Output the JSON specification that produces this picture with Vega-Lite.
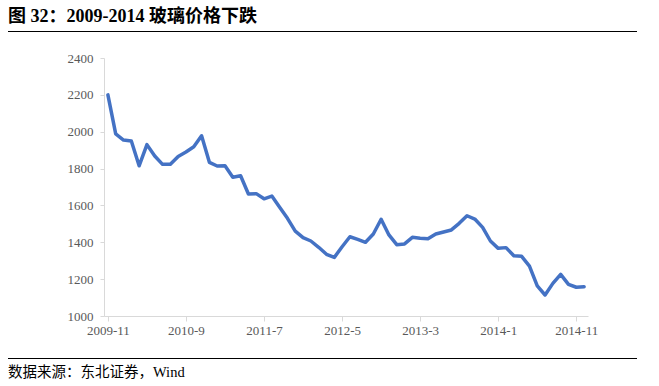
{
  "$schema": "https://vega.github.io/schema/vega-lite/v6.json",
  "padding": {"left": 8, "top": 7, "right": 0, "bottom": 0},
  "background": "white",
  "spacing": 26,
  "bounds": "flush",
  "config": {
    "font": "Liberation Serif, Noto Sans CJK SC",
    "view": {"stroke": null}
  },
  "vconcat": [
    {
      "width": 629,
      "height": 1,
      "view": {"fill": "#000000", "stroke": null},
      "title": {
        "text": "图 32：2009-2014 玻璃价格下跌",
        "anchor": "start",
        "fontSize": 18,
        "fontWeight": "bold",
        "color": "#000000",
        "offset": 0,
        "font": "Liberation Serif, Noto Sans CJK SC"
      },
      "data": {"values": [{}]},
      "mark": {"type": "text", "text": ""},
      "encoding": {}
    },
    {
      "spacing": 15,
      "bounds": "full",
      "vconcat": [
        {
          "spacing": 0,
          "hconcat": [
            {
              "width": 59,
              "height": 258,
              "data": {"values": [{}]},
              "mark": {"type": "text", "text": ""},
              "encoding": {}
            },
            {
              "width": 484,
              "height": 258,
              "data": {
                "values": [
                  {"month": "2009-11", "price": 2200},
                  {"month": "2009-12", "price": 1988},
                  {"month": "2010-1", "price": 1955},
                  {"month": "2010-2", "price": 1950},
                  {"month": "2010-3", "price": 1815},
                  {"month": "2010-4", "price": 1930},
                  {"month": "2010-5", "price": 1868},
                  {"month": "2010-6", "price": 1823},
                  {"month": "2010-7", "price": 1823},
                  {"month": "2010-8", "price": 1866},
                  {"month": "2010-9", "price": 1890},
                  {"month": "2010-10", "price": 1918},
                  {"month": "2010-11", "price": 1978},
                  {"month": "2010-12", "price": 1834},
                  {"month": "2011-1", "price": 1814},
                  {"month": "2011-2", "price": 1815},
                  {"month": "2011-3", "price": 1753},
                  {"month": "2011-4", "price": 1761},
                  {"month": "2011-5", "price": 1662},
                  {"month": "2011-6", "price": 1664},
                  {"month": "2011-7", "price": 1636},
                  {"month": "2011-8", "price": 1651},
                  {"month": "2011-9", "price": 1590},
                  {"month": "2011-10", "price": 1530},
                  {"month": "2011-11", "price": 1461},
                  {"month": "2011-12", "price": 1425},
                  {"month": "2012-1", "price": 1407},
                  {"month": "2012-2", "price": 1373},
                  {"month": "2012-3", "price": 1335},
                  {"month": "2012-4", "price": 1318},
                  {"month": "2012-5", "price": 1376},
                  {"month": "2012-6", "price": 1430},
                  {"month": "2012-7", "price": 1416},
                  {"month": "2012-8", "price": 1400},
                  {"month": "2012-9", "price": 1445},
                  {"month": "2012-10", "price": 1525},
                  {"month": "2012-11", "price": 1440},
                  {"month": "2012-12", "price": 1387},
                  {"month": "2013-1", "price": 1391},
                  {"month": "2013-2", "price": 1427},
                  {"month": "2013-3", "price": 1422},
                  {"month": "2013-4", "price": 1419},
                  {"month": "2013-5", "price": 1445},
                  {"month": "2013-6", "price": 1456},
                  {"month": "2013-7", "price": 1467},
                  {"month": "2013-8", "price": 1503},
                  {"month": "2013-9", "price": 1544},
                  {"month": "2013-10", "price": 1526},
                  {"month": "2013-11", "price": 1481},
                  {"month": "2013-12", "price": 1407},
                  {"month": "2014-1", "price": 1367},
                  {"month": "2014-2", "price": 1371},
                  {"month": "2014-3", "price": 1327},
                  {"month": "2014-4", "price": 1324},
                  {"month": "2014-5", "price": 1271},
                  {"month": "2014-6", "price": 1163},
                  {"month": "2014-7", "price": 1114},
                  {"month": "2014-8", "price": 1177},
                  {"month": "2014-9", "price": 1226},
                  {"month": "2014-10", "price": 1172},
                  {"month": "2014-11", "price": 1156},
                  {"month": "2014-12", "price": 1159}
                ]
              },
              "mark": {"type": "line", "color": "#4472C4", "strokeWidth": 3.5, "strokeJoin": "round", "strokeCap": "round"},
              "encoding": {
                "x": {
                  "field": "month",
                  "type": "ordinal",
                  "sort": null,
                  "scale": {"type": "point", "padding": 0.5},
                  "axis": {
                    "values": ["2009-11", "2010-9", "2011-7", "2012-5", "2013-3", "2014-1", "2014-11"],
                    "title": null,
                    "labelAngle": 0,
                    "labelFontSize": 13,
                    "labelColor": "#595959",
                    "labelFont": "Liberation Serif",
                    "domainColor": "#D9D9D9",
                    "tickColor": "#D9D9D9",
                    "tickSize": 5,
                    "labelPadding": 3,
                    "grid": false
                  }
                },
                "y": {
                  "field": "price",
                  "type": "quantitative",
                  "scale": {"domain": [1000, 2400], "nice": false, "zero": false},
                  "axis": {
                    "values": [1000, 1200, 1400, 1600, 1800, 2000, 2200, 2400],
                    "format": "d",
                    "title": null,
                    "labelFontSize": 13,
                    "labelColor": "#595959",
                    "labelFont": "Liberation Serif",
                    "domainColor": "#D9D9D9",
                    "tickColor": "#D9D9D9",
                    "tickSize": 4,
                    "labelPadding": 7,
                    "grid": false
                  }
                }
              }
            }
          ]
        },
        {
          "width": 629,
          "height": 1,
          "view": {"fill": "#000000", "stroke": null},
          "title": {
            "text": "数据来源：东北证券，Wind",
            "orient": "bottom",
            "anchor": "start",
            "fontSize": 14.5,
            "fontWeight": "normal",
            "color": "#000000",
            "offset": 2,
            "font": "Liberation Serif, Noto Sans CJK SC"
          },
          "data": {"values": [{}]},
          "mark": {"type": "text", "text": ""},
          "encoding": {}
        }
      ]
    }
  ]
}
